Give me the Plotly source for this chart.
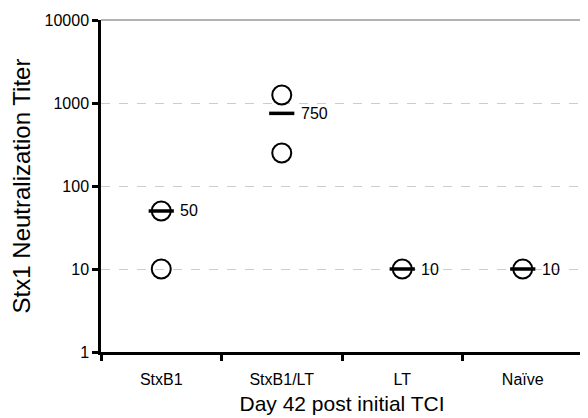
import math
import plotly.graph_objects as go

categories = ["StxB1", "StxB1/LT", "LT", "Naïve"]
point_groups = ["StxB1", "StxB1", "StxB1/LT", "StxB1/LT", "LT", "Naïve"]
point_values = [50, 10, 1250, 250, 10, 10]
mean_values = [50, 750, 10, 10]
mean_labels = ["50", "750", "10", "10"]
y_ticks = [1, 10, 100, 1000, 10000]

FONT = "Liberation Sans, Arial, sans-serif"

fig = go.Figure()
fig.add_trace(go.Scatter(
    x=point_groups, y=point_values, mode="markers",
    marker=dict(symbol="circle-open", size=19, color="black", line=dict(width=2, color="black")),
    showlegend=False, cliponaxis=False))
fig.add_trace(go.Scatter(
    x=categories, y=mean_values, mode="markers",
    marker=dict(symbol="line-ew", size=18, color="black", line=dict(width=3.5, color="black")),
    showlegend=False, cliponaxis=False))
for cat, val, lab in zip(categories, mean_values, mean_labels):
    # annotation y on a log axis is given in log10 units
    fig.add_annotation(x=cat, y=math.log10(val), yref="y", xref="x", text=lab, showarrow=False,
                       xanchor="left", xshift=18, font=dict(family=FONT, size=16, color="black"),
                       borderpad=0)

# top and right light border
fig.add_shape(type="line", xref="paper", yref="paper", x0=0, x1=1, y0=1, y1=1,
              line=dict(color="#999999", width=1.5))
fig.add_shape(type="line", xref="paper", yref="paper", x0=1, x1=1, y0=0, y1=1,
              line=dict(color="#bbbbbb", width=1.5))

fig.update_layout(
    width=580, height=410,
    margin=dict(l=93, r=5, t=12, b=66),
    plot_bgcolor="white", paper_bgcolor="white",
    font=dict(family=FONT, color="black"),
    xaxis=dict(
        type="category", categoryorder="array", categoryarray=categories,
        range=[-0.5, 3.5], tickson="boundaries", ticks="outside", ticklen=6,
        tickwidth=2.5, tickcolor="black", showline=True, linecolor="black", linewidth=2.5,
        showgrid=False, tickfont=dict(size=16), ticklabelstandoff=11, automargin=False,
        title=dict(text="Day 42 post initial TCI", font=dict(size=21), standoff=10),
    ),
    yaxis=dict(
        type="log", range=[0, 4], tickvals=y_ticks, ticktext=[str(v) for v in y_ticks],
        ticks="outside", ticklen=6, tickwidth=2.5, tickcolor="black",
        showline=True, linecolor="black", linewidth=2.5,
        showgrid=True, gridcolor="#cccccc", griddash="dash", gridwidth=1,
        tickfont=dict(size=16), zeroline=False, automargin=False,
        title=dict(text="Stx1 Neutralization Titer", font=dict(size=24), standoff=16),
    ),
)

fig.write_html("out.html")
